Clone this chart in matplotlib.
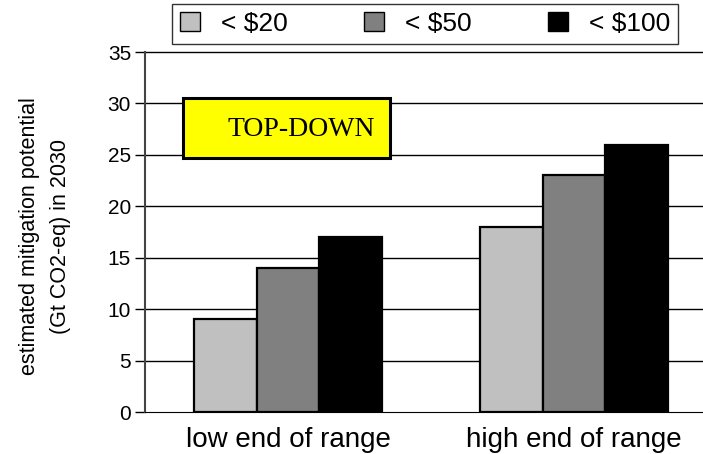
import numpy as np
import matplotlib.pyplot as plt
from matplotlib.patches import Patch, Rectangle

categories = ["low end of range", "high end of range"]
series_names = ["< $20", "< $50", "< $100"]
under_20 = [9, 18]
under_50 = [14, 23]
under_100 = [17, 26]
colors = ["#c0c0c0", "#808080", "#000000"]

plt.rcParams['font.family'] = ['Liberation Sans', 'DejaVu Sans']

fig = plt.figure(figsize=(7.03, 4.54), dpi=100)
ax = fig.add_axes([145 / 703, 42 / 454, 572 / 703, 370 / 454])

x = np.arange(len(categories))
w = 0.22
for i, (vals, c) in enumerate(zip([under_20, under_50, under_100], colors)):
    ax.bar(x + (i - 1) * w, vals, w, color=c, edgecolor="black", linewidth=1.6, zorder=3)

ax.set_ylim(0, 35 * 370 / 360)
ax.set_xlim(-0.5, 1.5)
ax.set_yticks(range(0, 36, 5))
ax.set_yticklabels([str(v) for v in range(0, 36, 5)], fontsize=15)
ax.set_xticks(x)
ax.set_xticklabels(categories, fontsize=20)
ax.tick_params(axis="x", length=0, pad=11)
ax.tick_params(axis="y", length=7, width=1, direction="out", pad=3)
for yv in range(5, 36, 5):
    ax.axhline(yv, color="black", linewidth=1, zorder=1)
for s in ["top", "right"]:
    ax.spines[s].set_visible(False)
ax.spines["left"].set_color("#444444")
ax.spines["left"].set_linewidth(1.5)
ax.spines["left"].set_bounds(0, 35)
ax.spines["bottom"].set_color("black")

# two-line axis title, placed in figure pixels
fig.text(45 / 703, 1 - 236 / 454, "estimated mitigation potential\n(Gt CO2-eq) in 2030",
         rotation=90, ha="center", va="center", fontsize=15.5, linespacing=1.6)

# yellow label box
fig.add_artist(Rectangle((183 / 703, 1 - 158 / 454), 207 / 703, 60 / 454,
                         transform=fig.transFigure, facecolor="yellow",
                         edgecolor="black", linewidth=2.2, zorder=5))
fig.text(228 / 703, 1 - 130 / 454, "TOP-DOWN", family="Liberation Serif",
         fontsize=20, ha="left", va="center", zorder=6)

handles = [Patch(facecolor=c, edgecolor="black", label=n) for c, n in zip(colors, series_names)]
fig.legend(handles=handles, loc="upper center", bbox_to_anchor=(425 / 703, 0.991), ncol=3,
           fontsize=19, frameon=True, fancybox=False, edgecolor="black",
           handlelength=0.75, handleheight=0.75, columnspacing=2.9, handletextpad=0.8,
           borderpad=0.3, borderaxespad=0)

fig.savefig("out.png", dpi=100)
